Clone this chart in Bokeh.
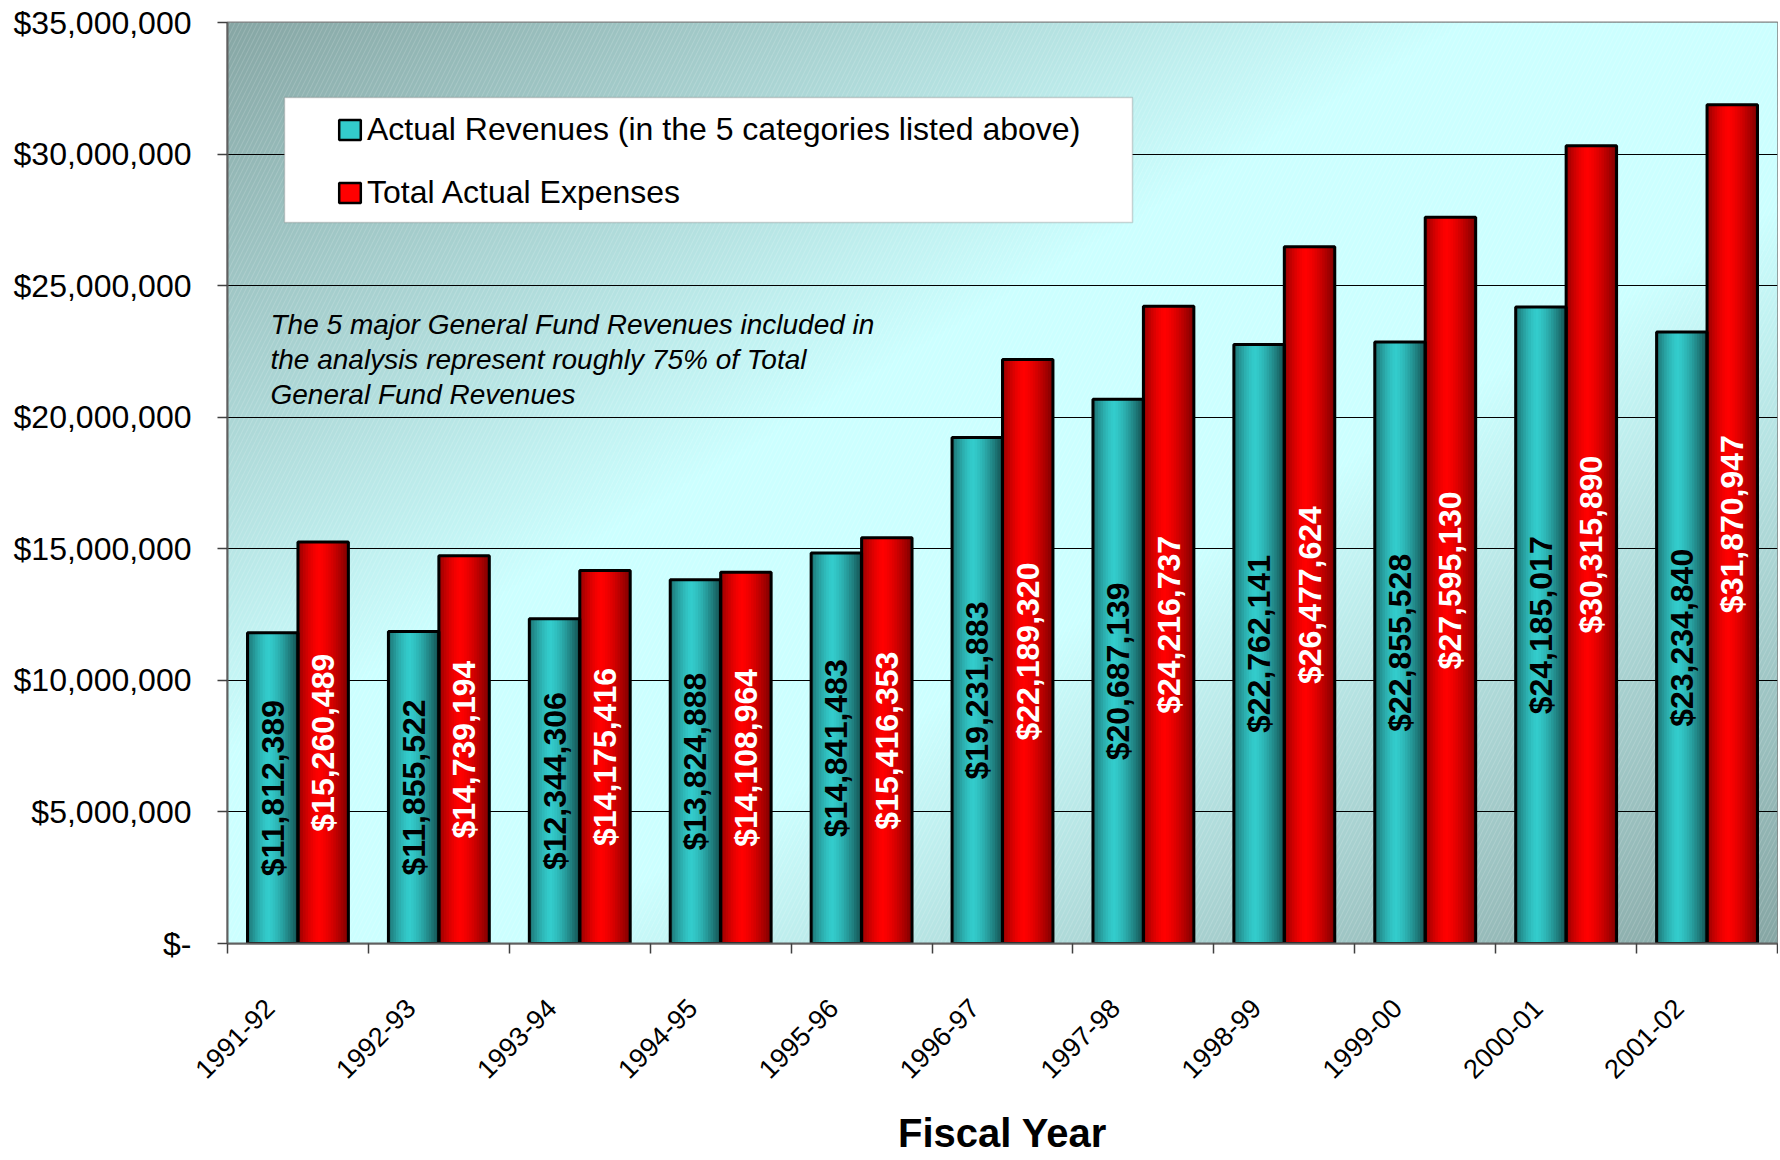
import numpy as np
from math import pi
from bokeh.plotting import figure
from bokeh.models import (ColumnDataSource, FixedTicker, Range1d, Legend, LegendItem,
                          BoxAnnotation)
from bokeh.core.properties import value
from bokeh.embed import file_html
from bokeh.resources import INLINE

# ---------------- data ----------------
fiscal_years = ["1991-92", "1992-93", "1993-94", "1994-95", "1995-96", "1996-97",
                "1997-98", "1998-99", "1999-00", "2000-01", "2001-02"]
actual_revenues = [11812389, 11855522, 12344306, 13824888, 14841483, 19231883,
                   20687139, 22762141, 22855528, 24185017, 23234840]
total_expenses = [15260489, 14739194, 14175416, 14108964, 15416353, 22189320,
                  24216737, 26477624, 27595130, 30315890, 31870947]
y_ticks = [0, 5000000, 10000000, 15000000, 20000000, 25000000, 30000000, 35000000]
y_tick_labels = ["$-", "$5,000,000", "$10,000,000", "$15,000,000", "$20,000,000",
                 "$25,000,000", "$30,000,000", "$35,000,000"]
series_names = ["Actual Revenues (in the 5 categories listed above)", "Total Actual Expenses"]
note_lines = ["The 5 major General Fund Revenues included in",
              "the analysis represent roughly 75% of Total",
              "General Fund Revenues"]
x_title = "Fiscal Year"

# ---------------- geometry ----------------
W, H = 1778, 1160
BL, BR, BT, BB = 227, 1, 22, 217
FW, FH = W - BL - BR, H - BT - BB
X0, X1 = -0.5, len(fiscal_years) - 0.5
Y0, Y1 = 0, 35000000
PAGE_L, PAGE_B = BL, BT + FH
LABEL_SHIFT = -0.2   # category label anchor relative to group centre


def px2x(px):
    return X0 + (px - PAGE_L) / FW * (X1 - X0)


def px2y(py):
    return Y0 + (PAGE_B - py) / FH * (Y1 - Y0)


FONT = "Liberation Sans"

p = figure(width=W, height=H, output_backend="svg", toolbar_location=None,
           x_range=Range1d(X0, X1), y_range=Range1d(Y0, Y1),
           min_border_left=BL, min_border_right=BR, min_border_top=BT, min_border_bottom=BB)
p.background_fill_color = "white"
p.border_fill_color = "white"
p.outline_line_color = "#808080"
p.outline_line_width = 2

# ---------------- background gradient ----------------
nx, ny = 480, 290
gx = np.linspace(0, 1, nx)
gy = np.linspace(0, 1, ny)
GX, GY = np.meshgrid(gx, gy)
u = (GX + (1 - GY)) / 2
d = np.abs(u - 0.5) * 2
t = np.clip((d - 0.2) / 0.8, 0, 1)
light = np.array([204, 255, 255], dtype=float)
dark = np.array([134, 166, 164], dtype=float)
rgb = light[None, None, :] + (dark - light)[None, None, :] * t[..., None]
img = np.empty((ny, nx), dtype=np.uint32)
view = img.view(dtype=np.uint8).reshape((ny, nx, 4))
view[..., 0:3] = np.round(rgb).astype(np.uint8)
view[..., 3] = 255
p.image_rgba(image=[img], x=X0, y=Y0, dw=X1 - X0, dh=Y1 - Y0, level="image")
p.quad(left=[X0], right=[X1], bottom=[Y0], top=[Y1], fill_alpha=0, line_alpha=0,
       hatch_pattern="/", hatch_color="white", hatch_alpha=0.16, hatch_scale=9,
       hatch_weight=1, level="image")

# ---------------- bars ----------------
BW = 0.358
NS = 20


def shade(f, kl, kr, peak=0.42):
    if f <= peak:
        return 1 - kl * ((peak - f) / peak) ** 1.5
    return 1 - kr * ((f - peak) / (1 - peak)) ** 1.4


def to_hex(c):
    c = [int(max(0, min(255, round(v)))) for v in c]
    return "#%02x%02x%02x" % tuple(c)


def strips(vals, offset, base, kl, kr):
    L, R, T, C = [], [], [], []
    for i, v in enumerate(vals):
        x0 = i + offset
        for k in range(NS):
            L.append(x0 + k * BW / NS)
            R.append(x0 + BW)
            T.append(v)
            s = shade((k + 0.5) / NS, kl, kr)
            C.append(to_hex([b * s for b in base]))
    return ColumnDataSource(dict(left=L, right=R, top=T, color=C))


rev_src = strips(actual_revenues, -BW, (51, 204, 204), 0.45, 0.62)
exp_src = strips(total_expenses, 0.0, (255, 0, 0), 0.42, 0.52)
for src in (rev_src, exp_src):
    p.quad(left="left", right="right", top="top", bottom=0, fill_color="color",
           line_color=None, source=src)

idx = np.arange(len(fiscal_years))
outline = ColumnDataSource(dict(
    left=list(idx - BW) + list(idx), right=list(idx) + list(idx + BW),
    top=actual_revenues + total_expenses))
p.quad(left="left", right="right", top="top", bottom=0, fill_color=None,
       line_color="black", line_width=3, source=outline)

# value labels
lab = ColumnDataSource(dict(
    x=list(idx - BW / 2) + list(idx + BW / 2),
    y=[v / 2 for v in actual_revenues] + [v / 2 for v in total_expenses],
    text=["${:,}".format(v) for v in actual_revenues] + ["${:,}".format(v) for v in total_expenses],
    color=["black"] * len(actual_revenues) + ["white"] * len(total_expenses)))
p.text(x="x", y="y", text="text", angle=pi / 2, text_align="center", text_baseline="middle",
       text_color="color", text_font=value(FONT), text_font_style="bold",
       text_font_size="32px", source=lab)

# ---------------- axes ----------------
p.xgrid.grid_line_color = None
p.ygrid.ticker = FixedTicker(ticks=y_ticks)
p.ygrid.grid_line_color = "black"
p.ygrid.grid_line_width = 1

label_pos = [i + LABEL_SHIFT for i in range(len(fiscal_years))]
xa = p.xaxis[0]
xa.ticker = FixedTicker(ticks=label_pos,
                        minor_ticks=[i - 0.5 for i in range(len(fiscal_years) + 1)])
xa.major_label_overrides = {pos: fy for pos, fy in zip(label_pos, fiscal_years)}
xa.major_tick_line_color = None
xa.minor_tick_line_color = "#404040"
xa.minor_tick_line_width = 1.5
xa.minor_tick_out = 10
xa.minor_tick_in = 0
xa.major_label_orientation = pi / 4
xa.major_label_text_font = FONT
xa.major_label_text_font_size = "27px"
xa.major_label_text_color = "black"
xa.major_label_standoff = 50
xa.axis_line_color = "#606060"
xa.axis_line_width = 2
xa.axis_label = x_title
xa.axis_label_text_font = FONT
xa.axis_label_text_font_style = "bold"
xa.axis_label_text_font_size = "40px"
xa.axis_label_text_color = "black"
xa.axis_label_standoff = 21

ya = p.yaxis[0]
ya.ticker = FixedTicker(ticks=y_ticks)
ya.major_label_overrides = dict(zip(y_ticks, y_tick_labels))
ya.minor_tick_line_color = None
ya.major_tick_out = 10
ya.major_tick_in = 0
ya.major_tick_line_color = "#404040"
ya.major_tick_line_width = 1.5
ya.major_label_text_font = FONT
ya.major_label_text_font_size = "32px"
ya.major_label_text_color = "black"
ya.major_label_standoff = 26
ya.axis_line_color = "#606060"
ya.axis_line_width = 2

# ---------------- legend ----------------
box = BoxAnnotation(left=px2x(284), right=px2x(1132), top=px2y(97), bottom=px2y(222),
                    fill_color="white", fill_alpha=1, line_color="#707070", line_width=1.5)
p.add_layout(box)

nan = float("nan")
sw_rev = p.quad(left=[nan], right=[nan], top=[nan], bottom=[nan], fill_color="#33cccc",
                line_color="black", line_width=2.5)
sw_exp = p.quad(left=[nan], right=[nan], top=[nan], bottom=[nan], fill_color="#ff0000",
                line_color="black", line_width=2.5)
legend = Legend(items=[LegendItem(label=series_names[0], renderers=[sw_rev]),
                       LegendItem(label=series_names[1], renderers=[sw_exp])],
                location=(336 - PAGE_L, PAGE_B - 211), orientation="vertical",
                background_fill_alpha=0, border_line_color=None,
                label_text_font=FONT, label_text_font_size="32px", label_text_color="black",
                glyph_width=27, glyph_height=25, label_standoff=4, spacing=26,
                label_height=37, padding=0, margin=0)
p.add_layout(legend, "center")

# ---------------- note ----------------
note = ColumnDataSource(dict(x=[px2x(270)] * 3, y=[px2y(323.5), px2y(358.5), px2y(393.5)],
                             text=note_lines))
p.text(x="x", y="y", text="text", text_align="left", text_baseline="middle",
       text_font=value(FONT), text_font_style="italic", text_font_size="28px",
       text_color="black", source=note)

open("out.html", "w").write(file_html(p, INLINE))
